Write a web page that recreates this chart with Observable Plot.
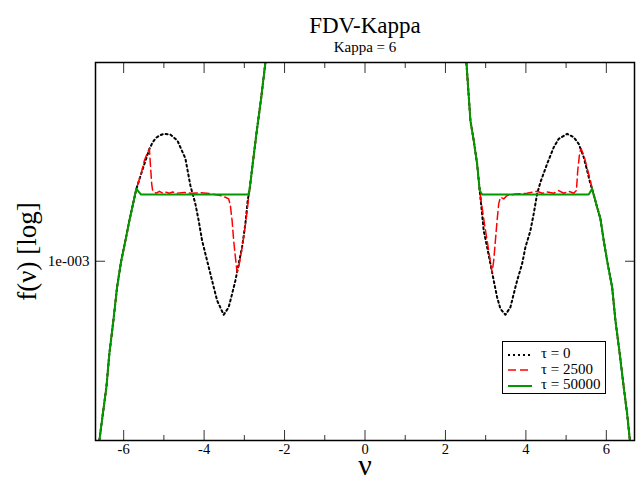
<!DOCTYPE html>
<html><head><meta charset="utf-8">
<script src="https://cdn.jsdelivr.net/npm/d3@7"></script>
<script src="https://cdn.jsdelivr.net/npm/@observablehq/plot@0.6"></script>
<style>
body{margin:0;background:#fff;}
#wrap{position:relative;width:643px;height:481px;}
#legend{position:absolute;left:502px;top:341px;width:104px;height:53px;border:1px solid #000;background:#fff;box-sizing:border-box;font-family:"Liberation Serif",serif;font-size:15px;color:#000;}
#legend .row{position:absolute;left:4px;height:16px;line-height:16px;white-space:nowrap;}
#legend svg{vertical-align:middle;margin-right:9px;}
</style>
</head><body>
<div id="wrap"></div>
<script>
// ---- data ----
const titleText = "FDV-Kappa";
const subtitleText = "Kappa = 6";
const xLabel = "ν";
const yLabel = "f(ν) [log]";
const seriesLabels = ["τ = 0", "τ = 2500", "τ = 50000"];
const xMajorTicks = [-6, -4, -2, 0, 2, 4, 6];
const xMinorTicks = [-5, -3, -1, 1, 3, 5];
const yTicks = [1e-3];
const yTickLabels = ["1e-003"];

// shared outer tails and central core (all three curves coincide there)
const tailLeftV = [-6.7,-6.604,-6.517,-6.429,-6.355,-6.255,-6.164,-6.064,-5.94,-5.858,-5.776,-5.684];
const tailLeftF = [1.14e-4,1.55e-4,2.05e-4,2.70e-4,3.83e-4,5.40e-4,7.63e-4,9.97e-4,1.283e-3,1.527e-3,1.785e-3,2.123e-3];
const coreV = [-2.767,-2.683,-2.583,-2.476,-2.3,-2.0,-1.5,-1.0,0,1.0,1.5,2.0,2.35,2.521,2.621,2.703,2.787];
const coreF = [3.0e-3,3.975e-3,5.43e-3,7.9e-3,1.46e-2,4e-2,0.1,0.18,0.25,0.18,0.1,4e-2,1.46e-2,7.9e-3,4.32e-3,3.51e-3,2.754e-3];
const tailRightV = [5.646,5.771,5.853,5.935,6.019,6.144,6.226,6.333,6.432,6.517,6.581,6.7];
const tailRightF = [2.123e-3,1.753e-3,1.554e-3,1.24e-3,1.007e-3,7.63e-4,5.4e-4,3.82e-4,2.7e-4,2.045e-4,1.577e-4,1.14e-4];

// tau = 0
const tau0LeftV = [-5.522,-5.359,-5.278,-5.194,-5.112,-5.005,-4.838,-4.664,-4.465,-4.341,-4.217,-4.135,-4.05,-3.926,-3.802,-3.677,-3.513,-3.389,-3.304,-3.222,-3.14,-3.056,-2.974,-2.916,-2.867];
const tau0LeftF = [2.622e-3,3.22e-3,3.447e-3,3.61e-3,3.695e-3,3.762e-3,3.735e-3,3.51e-3,2.91e-3,2.197e-3,1.816e-3,1.527e-3,1.24e-3,1.007e-3,8.18e-4,6.65e-4,5.73e-4,6.2e-4,7.12e-4,8.18e-4,9.73e-4,1.157e-3,1.475e-3,1.88e-3,2.123e-3];
const tau0RightV = [2.852,2.911,2.951,3.036,3.118,3.2,3.284,3.366,3.491,3.615,3.697,3.782,3.906,3.988,4.113,4.194,4.279,4.361,4.528,4.692,4.816,5.025,5.189,5.313,5.438,5.522,5.604];
const tau0RightF = [2.086e-3,1.637e-3,1.376e-3,1.157e-3,9.73e-4,8.18e-4,6.88e-4,6.1e-4,5.73e-4,6.2e-4,7.12e-4,8.18e-4,9.73e-4,1.157e-3,1.376e-3,1.637e-3,2.015e-3,2.274e-3,2.754e-3,3.272e-3,3.57e-3,3.762e-3,3.63e-3,3.39e-3,2.949e-3,2.569e-3,2.237e-3];

// tau = 2500
const tau2500LeftV = [-5.567,-5.485,-5.403,-5.361,-5.336,-5.303,-5.279,-5.194,-5.112,-5.03,-4.945,-4.863,-4.781,-4.697,-4.49,-4.324,-4.09,-3.84,-3.595,-3.471,-3.389,-3.347,-3.304,-3.265,-3.222,-3.18,-3.14,-3.081,-3.016,-2.949,-2.892,-2.867];
const tau2500LeftF = [2.482e-3,2.85e-3,3.107e-3,3.22e-3,2.754e-3,2.237e-3,2.086e-3,2.028e-3,2.07e-3,2.028e-3,2.05e-3,2.028e-3,2.055e-3,2.028e-3,2.045e-3,2.028e-3,2.04e-3,2.02e-3,1.98e-3,1.945e-3,1.913e-3,1.785e-3,1.527e-3,1.24e-3,1.042e-3,8.92e-4,9.39e-4,1.08e-3,1.283e-3,1.58e-3,1.945e-3,2.123e-3];
const tau2500RightV = [2.852,2.911,2.969,3.036,3.1,3.16,3.2,3.242,3.284,3.324,3.366,3.449,3.533,3.74,4.03,4.279,4.403,4.528,4.692,4.816,4.94,5.065,5.189,5.256,5.289,5.338,5.373,5.455,5.537,5.604];
const tau2500RightF = [2.086e-3,1.753e-3,1.475e-3,1.24e-3,1.042e-3,8.92e-4,1.007e-3,1.24e-3,1.527e-3,1.816e-3,1.945e-3,1.913e-3,1.98e-3,2.01e-3,2.028e-3,2.07e-3,2.028e-3,2.055e-3,2.028e-3,2.086e-3,2.028e-3,2.07e-3,2.028e-3,2.086e-3,2.569e-3,3.107e-3,3.22e-3,2.949e-3,2.569e-3,2.314e-3];

// tau = 50000
const tau50000LeftV = [-5.567,-5.0,-4.0,-3.2,-2.899,-2.867];
const tau50000LeftF = [2.0e-3,2.0e-3,2.0e-3,2.0e-3,2.0e-3,2.123e-3];
const tau50000RightV = [2.852,2.912,3.5,4.5,5.562];
const tau50000RightF = [2.086e-3,2.0e-3,2.0e-3,2.0e-3,2.0e-3];

// ---- styles ----
const seriesStyles = [
  {stroke: "#000000", strokeWidth: 2, dash: "2,3"},
  {stroke: "#ff0000", strokeWidth: 1.5, dash: "8,4"},
  {stroke: "#009900", strokeWidth: 2, dash: null}
];

function build(lv, lf, rv, rf) {
  const v = [...tailLeftV, ...lv, ...coreV, ...rv, ...tailRightV];
  const f = [...tailLeftF, ...lf, ...coreF, ...rf, ...tailRightF];
  return v.map((x, i) => ({v: x, f: f[i]}));
}
const series = [
  build(tau0LeftV, tau0LeftF, tau0RightV, tau0RightF),
  build(tau2500LeftV, tau2500LeftF, tau2500RightV, tau2500RightF),
  build(tau50000LeftV, tau50000LeftF, tau50000RightV, tau50000RightF)
];

const serif = "Liberation Serif";
const tickColor = "#333";
const blank = () => "";

const lineMarks = series.map((d, i) => Plot.line(d, {
  x: "v", y: "f", stroke: seriesStyles[i].stroke, strokeWidth: seriesStyles[i].strokeWidth,
  strokeDasharray: seriesStyles[i].dash, clip: true
}));

const chart = Plot.plot({
  width: 643, height: 481,
  marginTop: 62, marginBottom: 41, marginLeft: 95, marginRight: 9,
  style: {fontFamily: serif, background: "#fff", color: "#000"},
  x: {domain: [-6.7, 6.7]},
  y: {type: "log", domain: [1.55e-4, 7.9e-3]},
  marks: [
    ...lineMarks,
    Plot.axisX({anchor: "bottom", ticks: xMajorTicks, tickSize: -10, tickFormat: blank, label: null, stroke: tickColor}),
    Plot.axisX({anchor: "bottom", ticks: xMinorTicks, tickSize: -5, tickFormat: blank, label: null, stroke: tickColor}),
    Plot.axisX({anchor: "top", ticks: xMajorTicks, tickSize: -10, tickFormat: blank, label: null, stroke: tickColor}),
    Plot.axisX({anchor: "top", ticks: xMinorTicks, tickSize: -5, tickFormat: blank, label: null, stroke: tickColor}),
    Plot.axisX({anchor: "bottom", ticks: xMajorTicks, tickSize: 0, tickPadding: 3, tickFormat: d => String(d), label: null, fontSize: 14.5, fontFamily: serif, fill: "#000"}),
    Plot.axisY({anchor: "left", ticks: yTicks, tickSize: -10, tickFormat: blank, label: null, stroke: tickColor}),
    Plot.axisY({anchor: "right", ticks: yTicks, tickSize: -10, tickFormat: blank, label: null, stroke: tickColor}),
    Plot.axisY({anchor: "left", ticks: yTicks, tickSize: 0, tickPadding: 6, tickFormat: d => yTickLabels[yTicks.indexOf(d)] ?? "1e-003", label: null, fontSize: 15, fontFamily: serif, fill: "#000"}),
    Plot.frame({stroke: "#000", strokeWidth: 1.5}),
    Plot.text([titleText], {text: d => d, frameAnchor: "top", dy: -46, fontSize: 23, fontFamily: serif, fill: "#000"}),
    Plot.text([subtitleText], {text: d => d, frameAnchor: "top", dy: -21, fontSize: 15, fontFamily: serif, fill: "#000"}),
    Plot.text([xLabel], {text: d => d, frameAnchor: "bottom", dy: 34, fontSize: 30, fontFamily: serif, fill: "#000"}),
    Plot.text([yLabel], {text: d => d, frameAnchor: "left", textAnchor: "middle", dx: -68, dy: 0, rotate: -90, fontSize: 27, fontFamily: serif, fill: "#000"})
  ]
});

const wrap = document.getElementById("wrap");
wrap.appendChild(chart);

// legend
const legend = document.createElement("div");
legend.id = "legend";
seriesLabels.forEach((lab, i) => {
  const row = document.createElement("div");
  row.className = "row";
  row.style.top = (3 + i * 15.5) + "px";
  const st = seriesStyles[i];
  row.innerHTML = `<svg width="25" height="10"><line x1="1" y1="5" x2="25" y2="5" stroke="${st.stroke}" stroke-width="${st.strokeWidth}" ${st.dash ? `stroke-dasharray="${st.dash}"` : ""}/></svg><span>${lab}</span>`;
  legend.appendChild(row);
});
wrap.appendChild(legend);
</script>
</body></html>
